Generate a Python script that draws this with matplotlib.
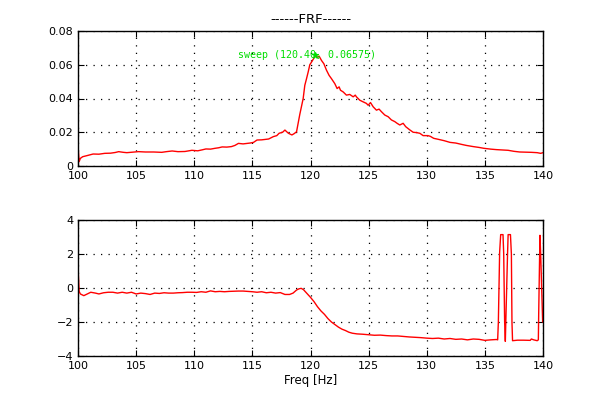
import numpy as np
import matplotlib
matplotlib.use("Agg")
import matplotlib.pyplot as plt

# magnitude of the FRF (top panel)
freq_mag = [100.0, 100.1, 100.2, 100.4, 100.8, 101.3, 101.8, 102.3, 102.8, 103.2,
            103.5, 103.9, 104.2, 104.7, 105.2, 105.8, 106.5, 107.2, 107.6, 108.1,
            108.6, 109.2, 109.8, 110.3, 110.7, 111.0, 111.4, 111.8, 112.1, 112.4,
            112.8, 113.2, 113.5, 113.8, 114.2, 114.8, 115.1, 115.4, 115.8, 116.4,
            116.8, 117.1, 117.3, 117.6, 117.8, 118.0, 118.1, 118.4, 118.6, 118.8,
            119.08, 119.37, 119.51, 119.66, 119.8, 119.94, 120.09, 120.29, 120.4, 120.52,
            120.74, 120.95, 121.15, 121.38, 121.6, 121.8, 122.09, 122.29, 122.46, 122.58,
            122.81, 123.09, 123.38, 123.67, 123.85, 123.95, 124.24, 124.53, 124.81, 124.96,
            125.16, 125.39, 125.67, 125.9, 126.1, 126.39, 126.68, 126.96, 127.25, 127.45,
            127.68, 127.97, 128.19, 128.54, 128.83, 129.11, 129.4, 129.69, 130.1,
            130.3, 130.6, 131.0, 131.5, 132.0, 132.5, 133.0, 133.4, 134.0, 134.5,
            134.9, 135.5, 136.0, 136.5, 137.0, 137.5, 138.0, 138.5, 139.0, 139.5,
            139.8, 140.0]
mag = [0.012, 0.0026, 0.0045, 0.0055, 0.0062, 0.0071, 0.0070, 0.0075, 0.0076, 0.0080,
       0.0085, 0.0081, 0.0079, 0.0082, 0.0085, 0.0083, 0.0083, 0.0081, 0.0085, 0.0089,
       0.0085, 0.0086, 0.0093, 0.0090, 0.0096, 0.0101, 0.0100, 0.0105, 0.0108, 0.0113,
       0.0112, 0.0115, 0.0122, 0.0134, 0.0131, 0.0136, 0.0140, 0.0154, 0.0155, 0.0160,
       0.0174, 0.0180, 0.0194, 0.0200, 0.0213, 0.0200, 0.0194, 0.0184, 0.0192, 0.0203,
       0.0306, 0.0400, 0.0478, 0.0518, 0.0557, 0.0600, 0.0616, 0.0639, 0.06575, 0.0643,
       0.0651, 0.0625, 0.0606, 0.0567, 0.0537, 0.0518, 0.0488, 0.0459, 0.0469, 0.0449,
       0.0439, 0.0420, 0.0424, 0.0410, 0.0420, 0.0410, 0.0390, 0.0380, 0.0371, 0.0360,
       0.0376, 0.0351, 0.0331, 0.0337, 0.0322, 0.0302, 0.0292, 0.0273, 0.0263, 0.0253,
       0.0243, 0.0253, 0.0233, 0.0214, 0.0200, 0.0198, 0.0194, 0.0180, 0.0180,
       0.0176, 0.0164, 0.0158, 0.0150, 0.0140, 0.0136, 0.0128, 0.0122, 0.0115, 0.0110,
       0.0105, 0.0100, 0.0097, 0.0095, 0.0093, 0.0087, 0.0083, 0.0082, 0.0081, 0.0079,
       0.0075, 0.0079]

# phase (bottom panel)
freq_ph = [100.0, 100.1, 100.2, 100.5, 100.8, 101.1, 101.5, 101.8, 102.2, 102.6,
           103.0, 103.4, 103.8, 104.2, 104.6, 105.0, 105.4, 105.8, 106.2, 106.6,
           107.0, 107.4, 107.8, 108.2, 108.6, 109.0, 109.4, 109.8, 110.2, 110.6,
           111.0, 111.4, 111.8, 112.2, 112.6, 113.0, 113.4, 113.8, 114.2, 114.6,
           115.0, 115.4, 115.8, 116.2, 116.6, 117.0, 117.4, 117.8, 118.2, 118.5,
           118.8, 119.0, 119.2, 119.4, 119.6, 119.8, 120.0, 120.3, 120.6, 120.9,
           121.2, 121.5, 121.8, 122.1, 122.4, 122.7, 123.0, 123.3, 123.6, 124.0,
           124.5, 125.0, 125.5, 126.0, 126.5, 127.0, 127.5, 128.0, 128.5, 129.0,
           129.5, 130.0, 130.5, 131.0, 131.5, 132.0, 132.5, 133.0, 133.5, 134.0,
           134.5, 135.0, 135.5, 136.0, 136.1, 136.16, 136.27, 136.36, 136.56, 136.62,
           136.7, 136.76, 136.8, 136.95, 137.0, 137.2, 137.28, 137.33, 137.38, 137.8,
           138.3, 138.9, 139.0, 139.2, 139.5, 139.6, 139.63, 139.7, 139.74, 139.8,
           139.97, 140.0]
phase = [1.2, -0.2, -0.35, -0.45, -0.35, -0.25, -0.3, -0.35, -0.28, -0.25,
         -0.25, -0.3, -0.25, -0.3, -0.25, -0.35, -0.3, -0.33, -0.38, -0.3,
         -0.32, -0.28, -0.3, -0.3, -0.28, -0.27, -0.25, -0.25, -0.26, -0.22,
         -0.25, -0.17, -0.22, -0.2, -0.22, -0.2, -0.19, -0.18, -0.18, -0.2,
         -0.22, -0.25, -0.22, -0.28, -0.25, -0.3, -0.27, -0.38, -0.38, -0.3,
         -0.12, -0.05, -0.02, -0.1, -0.25, -0.4, -0.55, -0.8, -1.1, -1.35,
         -1.55, -1.8, -2.0, -2.15, -2.3, -2.42, -2.5, -2.6, -2.66, -2.7,
         -2.72, -2.75, -2.78, -2.77, -2.8, -2.82, -2.82, -2.85, -2.88, -2.9,
         -2.92, -2.95, -2.97, -2.95, -3.0, -2.97, -3.02, -3.0, -3.05, -3.0,
         -3.02, -3.08, -3.05, -3.03, -3.05, -2.0, 2.1, 3.14, 3.14, 2.0,
         -2.0, -3.14, -2.0, 2.0, 3.14, 3.14, 2.0, -2.0, -3.1, -3.07,
         -3.07, -3.08, -3.0, -3.05, -3.1, -3.05, -1.5, 1.5, 3.1, 2.0,
         -2.0, -2.0]

peak_f = 120.40
peak_m = 0.06575

fig = plt.figure(figsize=(6, 4), dpi=100)
ax1 = fig.add_axes([0.13, 0.585, 0.775, 0.3375])
ax2 = fig.add_axes([0.13, 0.11, 0.775, 0.34])

for ax in (ax1, ax2):
    ax.grid(True, color="k", linestyle=(0, (1, 5)), linewidth=0.9)
    ax.tick_params(direction="in", top=True, right=True, length=4, labelsize=8)
    for s in ax.spines.values():
        s.set_linewidth(1.0)
    ax.set_xlim(100, 140)
    ax.set_xticks(np.arange(100, 141, 5))

ax1.plot(freq_mag, mag, color="r", lw=1)
ax1.plot([peak_f], [peak_m], marker="*", color="#00dd00", ms=5, mew=0.8)
ax1.text(119.7, peak_m, "sweep (120.40, 0.06575)", color="#00dd00",
         family="DejaVu Sans Mono", fontsize=7.2, ha="center", va="center")
ax1.set_ylim(0, 0.08)
ax1.set_yticks([0, 0.02, 0.04, 0.06, 0.08])
ax1.set_yticklabels(["0", "0.02", "0.04", "0.06", "0.08"])
ax1.set_title("------FRF------", fontsize=9.5, pad=6)

ax2.plot(freq_ph, phase, color="r", lw=1)
ax2.set_ylim(-4, 4)
ax2.set_yticks([-4, -2, 0, 2, 4])
ax2.set_xlabel("Freq [Hz]", fontsize=8.5, labelpad=2)

fig.savefig("out.png", dpi=100)
